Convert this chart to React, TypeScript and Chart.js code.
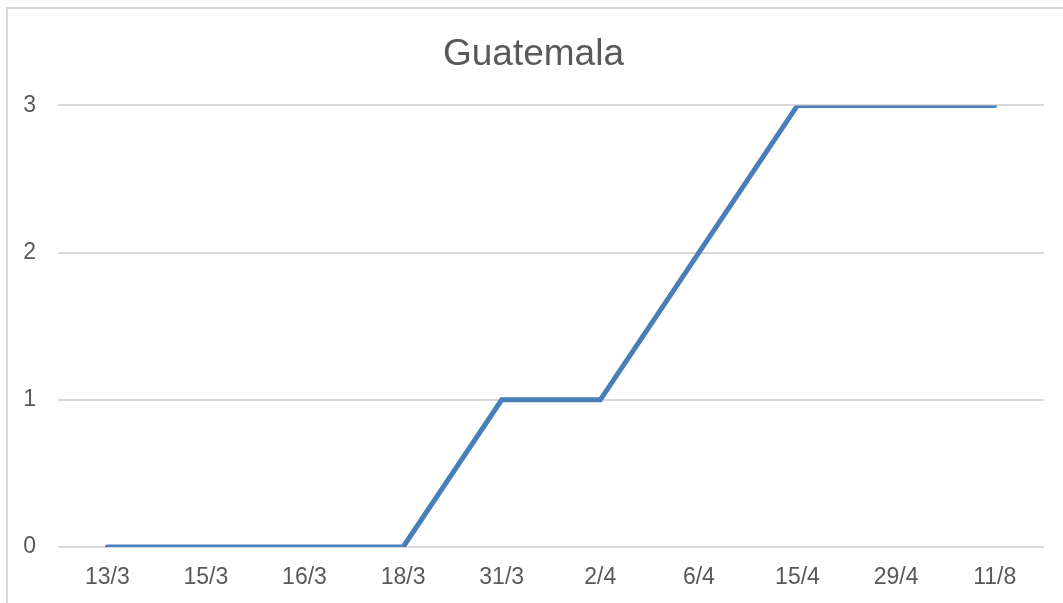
import React, { useEffect, useRef } from "react";
import { Chart, registerables } from "chart.js";

Chart.register(...registerables);

const categories = ["13/3", "15/3", "16/3", "18/3", "31/3", "2/4", "6/4", "15/4", "29/4", "11/8"];
const values = [0, 0, 0, 0, 1, 1, 2, 3, 3, 3];
const yTicks = [0, 1, 2, 3];
const title = "Guatemala";

export default function App() {
  const ref = useRef<HTMLCanvasElement | null>(null);

  useEffect(() => {
    document.body.style.overflow = "hidden";
    const ctx = ref.current!;
    const font = "'Liberation Sans', Arial, Helvetica, sans-serif";
    const chart = new Chart(ctx, {
      type: "line",
      data: {
        labels: categories,
        datasets: [
          {
            data: values,
            borderColor: "#4a7ebb",
            backgroundColor: "#4a7ebb",
            borderWidth: 5,
            pointRadius: 0,
            tension: 0,
            borderCapStyle: "round",
            borderJoinStyle: "miter",
            fill: false,
          },
        ],
      },
      options: {
        responsive: false,
        animation: false,
        layout: { padding: { left: 15, right: 19, top: 0, bottom: 0 } },
        plugins: {
          legend: { display: false },
          tooltip: { enabled: false },
          title: {
            display: true,
            text: title,
            color: "#595959",
            font: { family: font, size: 37, weight: "normal" },
            padding: { top: 24, bottom: 28 },
          },
        },
        scales: {
          x: {
            offset: true,
            grid: { display: false, drawTicks: false },
            border: { display: false },
            ticks: {
              color: "#595959",
              font: { family: font, size: 23 },
              padding: 17,
              maxRotation: 0,
            },
            afterFit: (scale: any) => {
              scale.height = 56;
            },
          },
          y: {
            min: 0,
            max: 3,
            afterBuildTicks: (scale: any) => {
              scale.ticks = yTicks.map((v) => ({ value: v }));
            },
            afterFit: (scale: any) => {
              scale.width = 35;
            },
            grid: { color: "#d9d9d9", lineWidth: 2, drawTicks: false },
            border: { display: false },
            ticks: {
              color: "#595959",
              font: { family: font, size: 23 },
              padding: 22,
            },
          },
        },
      },
    });
    return () => chart.destroy();
  }, []);

  return (
    <div
      style={{
        position: "absolute",
        left: 6,
        top: 7,
        width: 1057,
        height: 596,
        boxSizing: "border-box",
        borderTop: "2px solid #d9d9d9",
        borderLeft: "2px solid #d9d9d9",
        background: "#fff",
        overflow: "hidden",
      }}
    >
      <canvas ref={ref} width={1055} height={594} style={{ display: "block" }} />
    </div>
  );
}
